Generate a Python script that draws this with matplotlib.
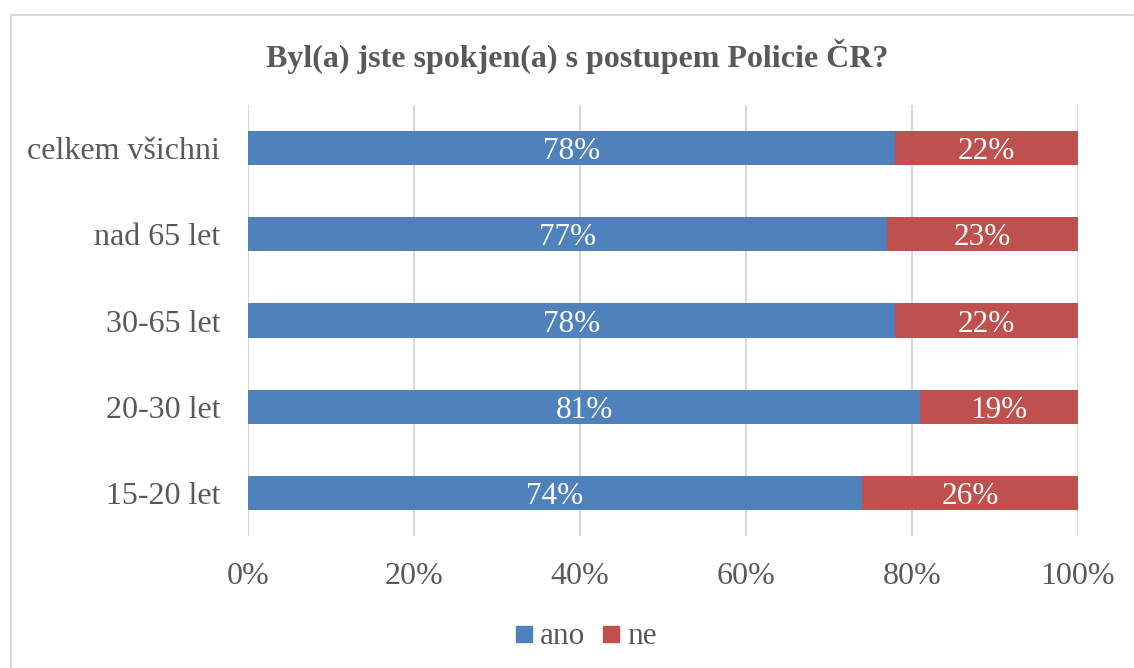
import matplotlib
matplotlib.use('Agg')
import matplotlib.pyplot as plt
from matplotlib.lines import Line2D

# data, bottom row first
categories = ['15-20 let', '20-30 let', '30-65 let', 'nad 65 let', 'celkem všichni']
ano = [74, 81, 78, 77, 78]
ne = [26, 19, 22, 23, 22]
xticks = [0, 20, 40, 60, 80, 100]

blue = '#4F81BD'
red = '#C0504D'
grey = '#595959'
serif = ['Liberation Serif', 'DejaVu Serif']

plt.rcParams['font.family'] = serif

fig = plt.figure(figsize=(11.34, 6.68), dpi=100)
ax = fig.add_axes([248/1134, 1 - 536/668, 830/1134, (536 - 105)/668])

pos = list(range(len(categories)))
h = 0.395
b1 = ax.barh(pos, ano, height=h, color=blue, label='ano', zorder=3)
b2 = ax.barh(pos, ne, left=ano, height=h, color=red, label='ne', zorder=3)

for bars, vals in ((b1, ano), (b2, ne)):
    for rect, v in zip(bars, vals):
        ax.text(rect.get_x() + rect.get_width() / 2, rect.get_y() + rect.get_height() / 2,
                '%d%%' % v, ha='center', va='center_baseline', color='white',
                fontsize=22.5, zorder=4)

ax.set_xlim(0, 100)
ax.set_ylim(-0.5, len(categories) - 0.5)
ax.set_xticks(xticks)
ax.set_xticklabels(['%d%%' % t for t in xticks])
ax.set_yticks(pos)
ax.set_yticklabels(categories)
ax.tick_params(axis='both', length=0, labelsize=23, colors=grey)
ax.tick_params(axis='x', pad=19)
ax.tick_params(axis='y', pad=20)
ax.grid(axis='x', color='#D9D9D9', linewidth=1.5, zorder=0)
for s in ax.spines.values():
    s.set_visible(False)

fig.text(577/1134, 1 - 57/668, 'Byl(a) jste spokjen(a) s postupem Policie ČR?',
         ha='center', va='center', fontsize=23, fontweight='bold', color=grey)

handles = [Line2D([], [], marker='s', linestyle='none', markersize=11, color=blue),
           Line2D([], [], marker='s', linestyle='none', markersize=11, color=red)]
fig.legend(handles, ['ano', 'ne'], loc='center', bbox_to_anchor=(584/1134, 1 - 637/668),
           ncol=2, frameon=False, fontsize=22.5, labelcolor=grey, handletextpad=0.1,
           columnspacing=0.45, handlelength=0.8)

# chart border (cut off at right and bottom)
fig.add_artist(Line2D([10.5/1134, 1], [1 - 15/668, 1 - 15/668], color='#D9D9D9', linewidth=1.5))
fig.add_artist(Line2D([10.5/1134, 10.5/1134], [0, 1 - 15/668], color='#D9D9D9', linewidth=1.5))

fig.savefig('out.png', dpi=100)
